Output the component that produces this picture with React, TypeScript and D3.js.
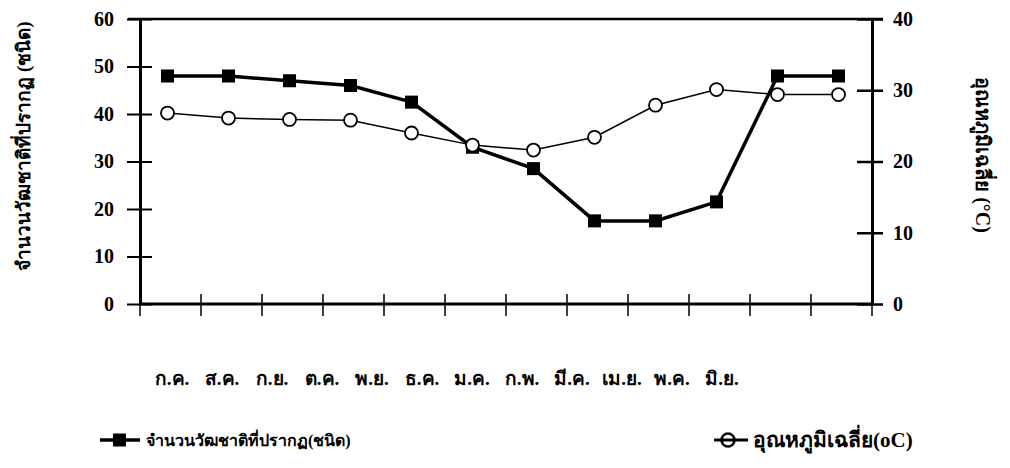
import * as d3 from "d3";
import { useRef, useEffect } from "react";

// month labels along the bottom
const months = ["ก.ค.", "ส.ค.", "ก.ย.", "ต.ค.", "พ.ย.", "ธ.ค.", "ม.ค.", "ก.พ.", "มี.ค.", "เม.ย.", "พ.ค.", "มิ.ย."];

// number of species found (left axis)
const species = [48, 48, 47, 46, 42.5, 33, 28.5, 17.5, 17.5, 21.5, 48, 48];

// mean temperature (right axis)
const temperature = [26.8, 26.1, 25.9, 25.8, 24, 22.3, 21.6, 23.4, 27.9, 30.1, 29.4, 29.4];

const leftTicks = [0, 10, 20, 30, 40, 50, 60];
const rightTicks = [0, 10, 20, 30, 40];

const speciesLabel = "จำนวนวัฒชาติที่ปรากฏ(ชนิด)";
const speciesAxisLabel = "จำนวนวัฒชาติที่ปรากฏ (ชนิด)";
const tempLabel = "อุณหภูมิเฉลี่ย(oC)";
const tempAxisLabel = "อุณหภูมิเฉลี่ย (°C)";

const font = "'Liberation Serif', 'Times New Roman', Norasi, Kinnari, serif";

export default function App() {
    const svgRef = useRef<SVGSVGElement>(null);

    useEffect(() => {
        const svg = d3.select(svgRef.current);
        svg.selectAll("*").remove();

        const left = 140, right = 872, top = 19, bottom = 304;

        const x = d3.scaleBand().domain(months).range([left, right]);
        // month labels were set in a narrower block than the plot
        const xLabel = d3.scalePoint().domain(months).range([172, 722]);
        const yL = d3.scaleLinear().domain([0, 60]).range([bottom, top]);
        const yR = d3.scaleLinear().domain([0, 40]).range([bottom, top]);

        const g = svg.append("g");

        // plot frame: top line
        g.append("line").attr("x1", left - 12).attr("x2", right + 11).attr("y1", top).attr("y2", top)
            .attr("stroke", "#000").attr("stroke-width", 2.5);

        // left axis
        const axL = g.append("g").attr("transform", `translate(${left},0)`)
            .call(d3.axisLeft(yL).tickValues(leftTicks).tickSizeInner(13).tickSizeOuter(0).tickPadding(12));
        axL.select(".domain").attr("stroke-width", 3);
        axL.selectAll(".tick line").attr("x2", 12).attr("x1", -13).attr("stroke-width", 2);
        axL.selectAll(".tick text").style("font-family", font).style("font-size", "20px").style("font-weight", "bold").attr("x", -26);

        // right axis
        const axR = g.append("g").attr("transform", `translate(${right},0)`)
            .call(d3.axisRight(yR).tickValues(rightTicks).tickSizeInner(11).tickSizeOuter(0).tickPadding(12));
        axR.select(".domain").attr("stroke-width", 3);
        axR.selectAll(".tick line").attr("x1", -15).attr("x2", 11).attr("stroke-width", 2.5);
        axR.selectAll(".tick text").style("font-family", font).style("font-size", "20px").style("font-weight", "bold").attr("x", 21);

        // bottom axis with ticks on category boundaries
        g.append("line").attr("x1", left).attr("x2", right).attr("y1", bottom).attr("y2", bottom)
            .attr("stroke", "#000").attr("stroke-width", 3);
        const edges = months.map(m => x(m)!).concat([right]);
        g.selectAll(".xtick").data(edges).enter().append("line")
            .attr("x1", d => d).attr("x2", d => d).attr("y1", bottom - 10).attr("y2", bottom + 12)
            .attr("stroke", "#000").attr("stroke-width", 1.5);

        // month labels
        g.selectAll(".month").data(months).enter().append("text")
            .attr("x", d => xLabel(d)!).attr("y", 385)
            .attr("text-anchor", "middle").style("font-family", font).style("font-size", "19px").style("font-weight", "bold")
            .text(d => d);

        const cx = (d: string) => x(d)! + x.bandwidth() / 2 - 3;

        // temperature line (thin, open circles)
        const lineR = d3.line<number>().x((_, i) => cx(months[i])).y(d => yR(d));
        g.append("path").datum(temperature).attr("d", lineR).attr("fill", "none").attr("stroke", "#000").attr("stroke-width", 1.5);

        // species line (thick, filled squares)
        const lineL = d3.line<number>().x((_, i) => cx(months[i])).y(d => yL(d));
        g.append("path").datum(species).attr("d", lineL).attr("fill", "none").attr("stroke", "#000").attr("stroke-width", 3.5);

        g.selectAll(".sq").data(species).enter().append("rect")
            .attr("x", (_, i) => cx(months[i]) - 6.5).attr("y", d => yL(d) - 6.5)
            .attr("width", 13).attr("height", 13).attr("fill", "#000");

        g.selectAll(".ci").data(temperature).enter().append("circle")
            .attr("cx", (_, i) => cx(months[i])).attr("cy", d => yR(d)).attr("r", 6.5)
            .attr("fill", "#fff").attr("stroke", "#000").attr("stroke-width", 1.8);

        // axis titles
        g.append("text").attr("transform", `translate(30,146) rotate(-90)`).attr("text-anchor", "middle")
            .style("font-family", font).style("font-size", "19px").style("font-weight", "bold").text(speciesAxisLabel);
        g.append("text").attr("transform", `translate(976,155) rotate(90)`).attr("text-anchor", "middle")
            .style("font-family", font).style("font-size", "20px").style("font-weight", "bold").text(tempAxisLabel);

        // legend
        const ly = 440;
        g.append("line").attr("x1", 100).attr("x2", 140).attr("y1", ly).attr("y2", ly).attr("stroke", "#000").attr("stroke-width", 3.5);
        g.append("rect").attr("x", 113).attr("y", ly - 6.5).attr("width", 13).attr("height", 13).attr("fill", "#000");
        g.append("text").attr("x", 146).attr("y", ly + 6).style("font-family", font).style("font-size", "16px").style("font-weight", "bold").text(speciesLabel);

        g.append("circle").attr("cx", 728).attr("cy", ly).attr("r", 6.5).attr("fill", "#fff").attr("stroke", "#000").attr("stroke-width", 2.5);
        g.append("line").attr("x1", 714).attr("x2", 748).attr("y1", ly).attr("y2", ly).attr("stroke", "#000").attr("stroke-width", 3);
        g.append("text").attr("x", 753).attr("y", ly + 7).style("font-family", font).style("font-size", "21px").style("font-weight", "bold").text(tempLabel);
    }, []);

    return (
        <svg ref={svgRef} width={1010} height={468} style={{ position: "absolute", left: 0, top: 0, background: "#fff" }} />
    );
}
